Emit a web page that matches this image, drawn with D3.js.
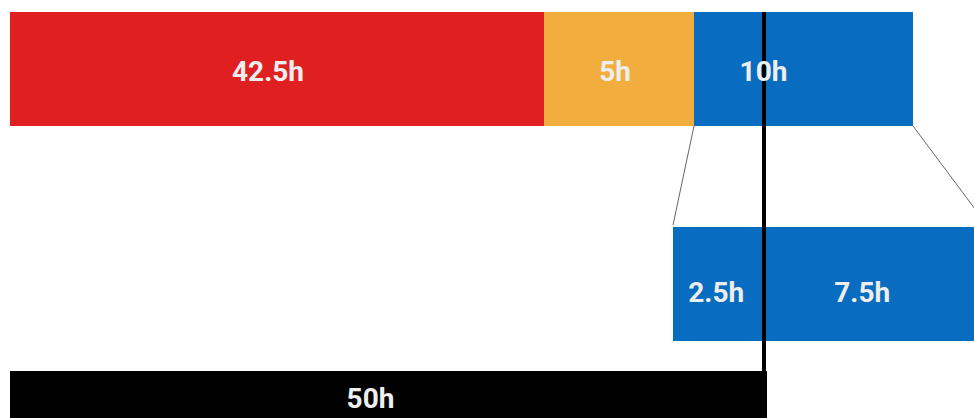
<!DOCTYPE html>
<html>
<head>
<meta charset="utf-8">
<script src="https://cdn.jsdelivr.net/npm/d3@7"></script>
<style>
  html, body { margin: 0; padding: 0; background: #fff; overflow: hidden; }
  svg text { font-family: Roboto, "Noto Sans", sans-serif; font-weight: bold; }
  svg rect { shape-rendering: crispEdges; }
</style>
</head>
<body>
<div id="chart"></div>
<script>
// DATA
var topNames = ["a", "b", "c"];
var topHours = [42.5, 5, 10];
var topColours = ["#e02020", "#f2ad3f", "#086cc0"];

var zoomNames = ["c1", "c2"];
var zoomHours = [2.5, 7.5];

var totalHours = 50;

// layout
var W = 974, H = 418;
var barH = 114;
var rowY = {top: 12, zoom: 227, total: 371};
var labelNudge = {top: [-9, -4, -40], zoom: [4, -7], total: -18};

var svg = d3.select("#chart").append("svg")
    .attr("width", W)
    .attr("height", H);

// cumulative starts
function stack(vals){
  var out = [], acc = 0;
  for(var i=0;i<vals.length;i++){
    out.push({v: vals[i], x0: acc, x1: acc + vals[i], i: i});
    acc += vals[i];
  }
  return out;
}
var topStack = stack(topHours);
var zoomStack = stack(zoomHours);

// top bar scale (segments are not drawn in proportion)
var xTop = d3.scaleLinear()
  .domain([0, topStack[0].x1, topStack[1].x1, topStack[2].x1])
  .range([10, 544, 694, 913]);

// zoomed bar scale: 10h of the blue segment
var xZoom = d3.scaleLinear()
  .domain([0, d3.sum(zoomHours)])
  .range([673, 987]);

// total scale
var xTotal = d3.scaleLinear()
  .domain([0, totalHours])
  .range([10, 767]);

// connector lines
var last = topStack[topStack.length-1];
svg.append("line")
  .attr("x1", xTop(last.x0)).attr("y1", rowY.top + barH)
  .attr("x2", xZoom(0)).attr("y2", rowY.zoom - 2)
  .attr("stroke", "#666").attr("stroke-width", 1);
svg.append("line")
  .attr("x1", xTop(last.x1)).attr("y1", rowY.top + barH)
  .attr("x2", xZoom(d3.sum(zoomHours))).attr("y2", rowY.zoom - 2)
  .attr("stroke", "#666").attr("stroke-width", 1);

// top bar
svg.selectAll(".topbar")
  .data(topStack)
  .enter()
  .append("rect")
    .attr("class", "topbar")
    .attr("x", function(d){ return Math.round(xTop(d.x0)); })
    .attr("y", rowY.top)
    .attr("width", function(d){ return Math.round(xTop(d.x1)) - Math.round(xTop(d.x0)); })
    .attr("height", barH)
    .attr("fill", function(d){ return topColours[d.i]; });

// zoom bar
svg.selectAll(".zoombar")
  .data(zoomStack)
  .enter()
  .append("rect")
    .attr("class", "zoombar")
    .attr("x", function(d){ return Math.round(xZoom(d.x0)); })
    .attr("y", rowY.zoom)
    .attr("width", function(d){ return Math.round(xZoom(d.x1)) - Math.round(xZoom(d.x0)); })
    .attr("height", barH)
    .attr("fill", topColours[2]);

// total bar
svg.append("rect")
  .attr("x", xTotal(0))
  .attr("y", rowY.total)
  .attr("width", xTotal(totalHours) - xTotal(0))
  .attr("height", barH)
  .attr("fill", "#000");

// marker line at 50h
svg.append("rect")
  .attr("x", xTotal(totalHours) - 5)
  .attr("y", rowY.top)
  .attr("width", 4)
  .attr("height", rowY.total - rowY.top)
  .attr("fill", "#000");

// labels
function fmt(v){ return v + "h"; }

svg.selectAll(".toplab")
  .data(topStack)
  .enter()
  .append("text")
    .attr("x", function(d){ return (xTop(d.x0) + xTop(d.x1))/2 + labelNudge.top[d.i]; })
    .attr("y", rowY.top + 69)
    .attr("text-anchor", "middle")
    .attr("font-size", 28)
    .attr("fill", "#eeeeee")
    .text(function(d){ return fmt(d.v); });

svg.selectAll(".zoomlab")
  .data(zoomStack)
  .enter()
  .append("text")
    .attr("x", function(d){ return (xZoom(d.x0) + xZoom(d.x1))/2 + labelNudge.zoom[d.i]; })
    .attr("y", rowY.zoom + 75)
    .attr("text-anchor", "middle")
    .attr("font-size", 28)
    .attr("fill", "#eeeeee")
    .text(function(d){ return fmt(d.v); });

svg.append("text")
  .attr("x", (xTotal(0) + xTotal(totalHours))/2 + labelNudge.total)
  .attr("y", rowY.total + 37)
  .attr("text-anchor", "middle")
  .attr("font-size", 28)
  .attr("fill", "#eeeeee")
  .text(fmt(totalHours));
</script>
</body>
</html>
